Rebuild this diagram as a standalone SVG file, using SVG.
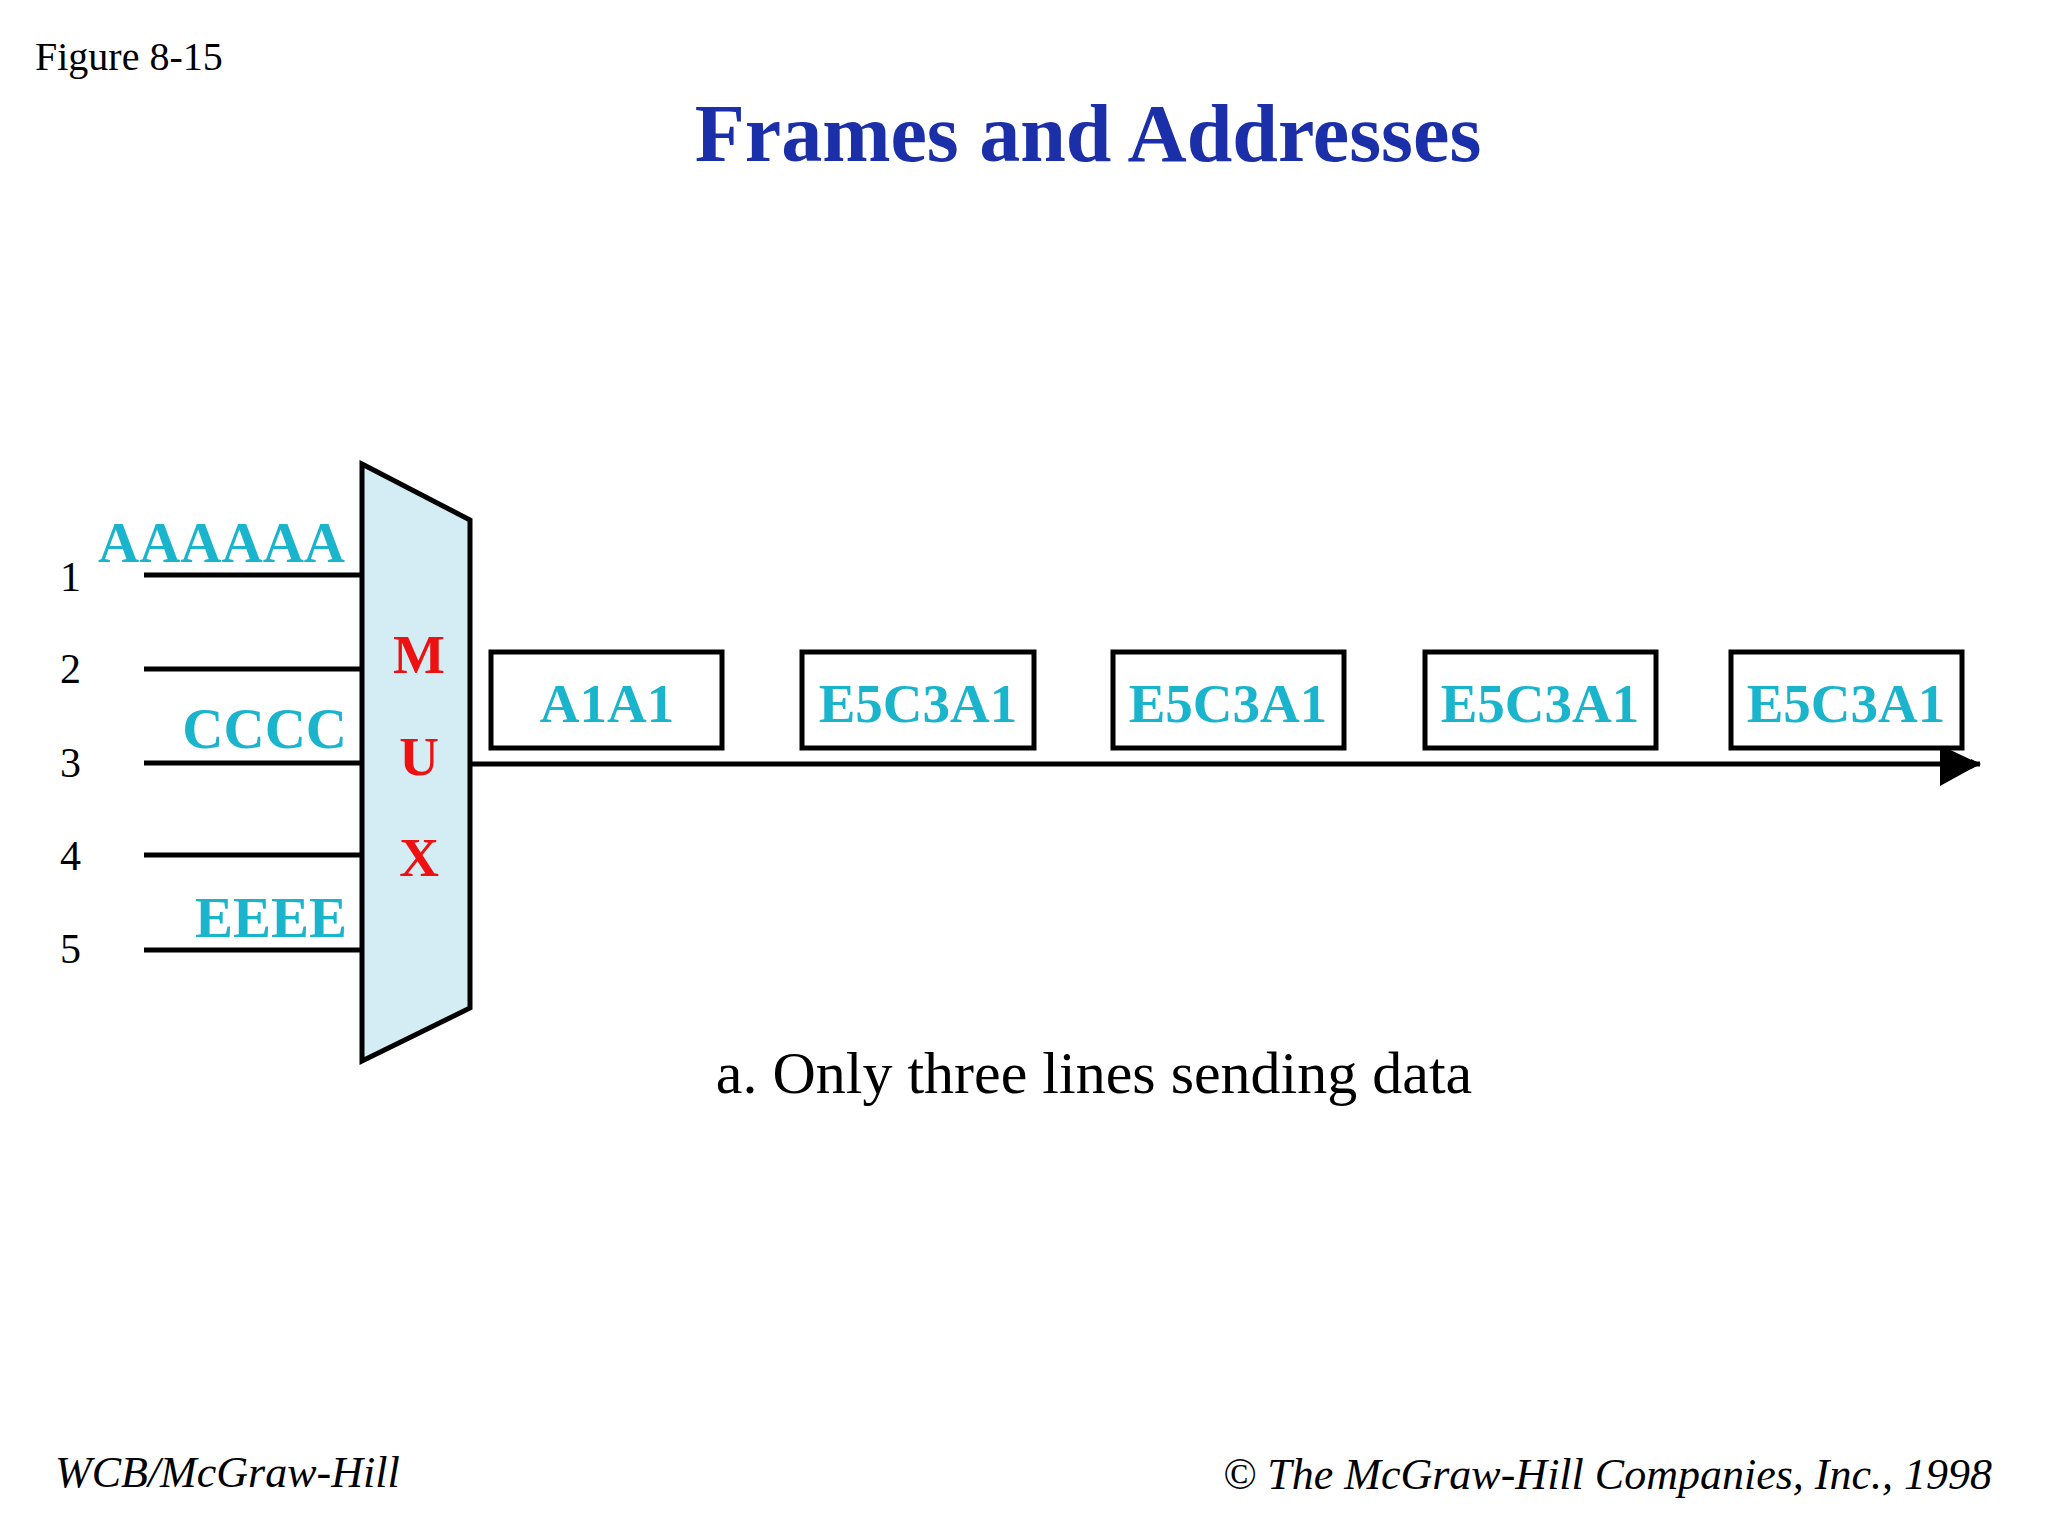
<svg xmlns="http://www.w3.org/2000/svg" width="2048" height="1536" viewBox="0 0 2048 1536">
<defs>
<style>
.ln{stroke:#000;stroke-width:5;fill:none}
.num{font-family:"Liberation Serif",serif;font-size:42px;fill:#000}
.lab{font-family:"Liberation Serif",serif;font-weight:bold;font-size:57px;fill:#1ab4cc}
.mux{font-family:"Liberation Serif",serif;font-weight:bold;font-size:55px;fill:#ee1111;text-anchor:middle}
.box{fill:#fff;stroke:#000;stroke-width:5}
.bt{font-family:"Liberation Serif",serif;font-weight:bold;font-size:55px;fill:#1ab4cc;text-anchor:middle}
.ft{font-family:"Liberation Serif",serif;font-style:italic;font-size:44px;fill:#000}
</style>
<marker id="ah" markerWidth="10" markerHeight="10" refX="9" refY="5" orient="auto" markerUnits="userSpaceOnUse" viewBox="0 0 10 10"><path d="M0,0 L10,5 L0,10 z" fill="#000"/></marker>
</defs>
<rect width="2048" height="1536" fill="#fff"/>
<text x="35" y="70" font-family="Liberation Serif,serif" font-size="40" fill="#000">Figure 8-15</text>
<text x="1088" y="161" text-anchor="middle" font-family="Liberation Serif,serif" font-weight="bold" font-size="82" fill="#1a2fa8">Frames and Addresses</text>
<g id="inputs">
<line class="ln" x1="144" y1="575" x2="362" y2="575"/>
<line class="ln" x1="144" y1="669" x2="362" y2="669"/>
<line class="ln" x1="144" y1="763" x2="362" y2="763"/>
<line class="ln" x1="144" y1="855" x2="362" y2="855"/>
<line class="ln" x1="144" y1="950" x2="362" y2="950"/>
<text class="num" x="60" y="591">1</text>
<text class="num" x="60" y="683">2</text>
<text class="num" x="60" y="777">3</text>
<text class="num" x="60" y="870">4</text>
<text class="num" x="60" y="963">5</text>
<text class="lab" x="345" y="562" text-anchor="end">AAAAAA</text>
<text class="lab" x="347" y="748" text-anchor="end">CCCC</text>
<text class="lab" x="347" y="937" text-anchor="end">EEEE</text>
</g>
<g id="mux">
<polygon points="362,464 470,520 470,1008 362,1061" fill="#d4ecf4" stroke="#000" stroke-width="5"/>
<text class="mux" x="419" y="673">M</text>
<text class="mux" x="419" y="775">U</text>
<text class="mux" x="419" y="876">X</text>
</g>
<g id="connectors">
<line x1="470" y1="764" x2="1980" y2="764" stroke="#000" stroke-width="5" marker-end="url(#ah)"/>
<path d="M1940,745 L1980,764 L1940,786 z" fill="#000"/>
</g>
<g id="f1"><rect class="box" x="491" y="652" width="231" height="96"/><text class="bt" x="607" y="722">A1A1</text></g>
<g id="f2"><rect class="box" x="802" y="652" width="232" height="96"/><text class="bt" x="918" y="722">E5C3A1</text></g>
<g id="f3"><rect class="box" x="1113" y="652" width="231" height="96"/><text class="bt" x="1228" y="722">E5C3A1</text></g>
<g id="f4"><rect class="box" x="1425" y="652" width="231" height="96"/><text class="bt" x="1540" y="722">E5C3A1</text></g>
<g id="f5"><rect class="box" x="1731" y="652" width="231" height="96"/><text class="bt" x="1846" y="722">E5C3A1</text></g>
<text x="1094" y="1093" text-anchor="middle" font-family="Liberation Serif,serif" font-size="60" fill="#000">a. Only three lines sending data</text>
<text class="ft" x="55" y="1487">WCB/McGraw-Hill</text>
<text class="ft" x="1992" y="1489" text-anchor="end">© The McGraw-Hill Companies, Inc., 1998</text>
</svg>
